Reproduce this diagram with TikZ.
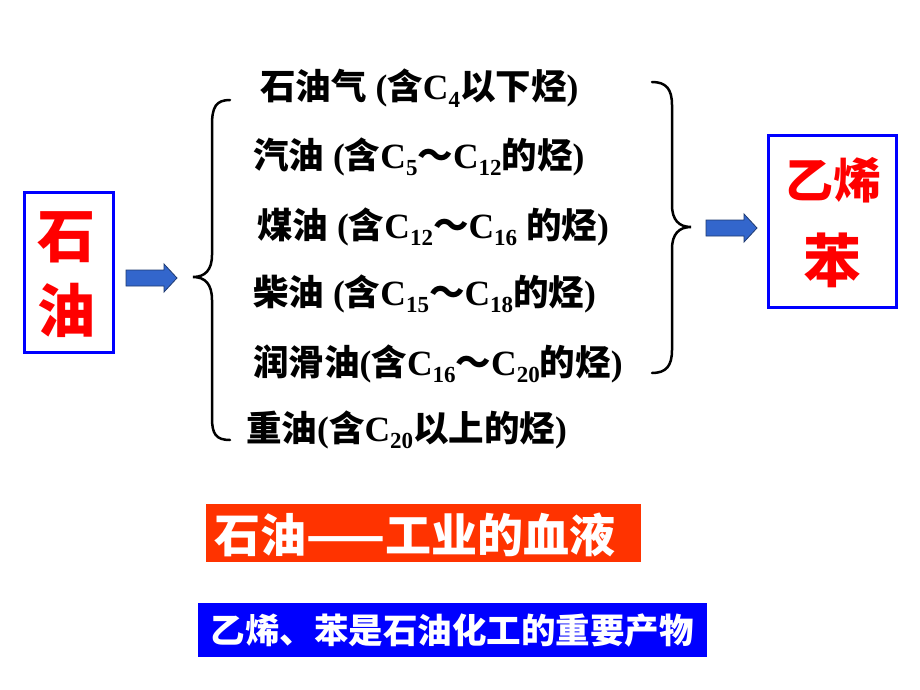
\documentclass[tikz,border=0pt]{standalone}
\usepackage{fontspec}
\setmainfont{Liberation Serif}
\newfontfamily\cjk{Noto Sans CJK SC}
\definecolor{pureblue}{HTML}{0000FF}
\definecolor{barred}{HTML}{FF3300}
\definecolor{arrowblue}{HTML}{3366CC}
\definecolor{arrowline}{HTML}{1F3A70}
\newcommand{\zh}[1]{{\cjk #1}}
\newcommand{\sub}[1]{\raisebox{-0.22em}{\fontsize{23}{23}\selectfont #1}}
\def\blockarrow(#1,#2){\draw[arrowpen] (#1, #2-8) -- ++(38, 0) -- ++(0, -6) -- ++(13, 14) -- ++(-13, 14) -- ++(0, -6) -- ++(-38, 0) -- cycle;}
\tikzset{
	oilitem/.style={anchor=base west, inner sep=0pt, font=\fontsize{35.5}{40}\selectfont\bfseries},
	framebox/.style={draw=pureblue, line width=3pt, inner sep=0pt},
	redword/.style={text=red, inner sep=0pt},
	arrowpen/.style={draw=arrowline, fill=arrowblue, line width=0.8pt},
	bracepen/.style={line width=2.5pt, line cap=round},
}

\begin{document}
\begin{tikzpicture}[x=1pt, y=-1pt]
			%%%%% START %%%%%
			
			\fill[white] (0, 0) rectangle (920, 690);
			\useasboundingbox (0, 0) rectangle (920, 690);
			
			\node[framebox, minimum width=89pt, minimum height=160pt] (oilbox) at (68.5, 272) {};
			\node[redword, font=\fontsize{58}{58}\selectfont\bfseries\cjk] (shi) at (66, 237) {石};
			\node[redword, font=\fontsize{58}{58}\selectfont\bfseries\cjk] (you) at (66, 310) {油};
			
			\blockarrow(126, 278)
			
			\draw[bracepen] (230, 100) .. controls (216, 100) and (212, 107) .. (212, 125) -- (212, 255)
				.. controls (212, 270) and (205, 277) .. (193, 277)
				.. controls (205, 277) and (212, 284) .. (212, 300) -- (212, 418)
				.. controls (212, 434) and (216, 440) .. (230, 440);
			
			\node[oilitem] (gas) at (260, 100) {\zh{石油气} (\zh{含}C\sub{4}\zh{以下烃})};
			\node[oilitem] (petrol) at (253, 168) {\zh{汽油} (\zh{含}C\sub{5}\zh{～}C\sub{12}\zh{的烃})};
			\node[oilitem] (kerosene) at (257, 238) {\zh{煤油} (\zh{含}C\sub{12}\zh{～}C\sub{16} \zh{的烃})};
			\node[oilitem] (diesel) at (253, 305) {\zh{柴油} (\zh{含}C\sub{15}\zh{～}C\sub{18}\zh{的烃})};
			\node[oilitem] (lube) at (253, 375) {\zh{润滑油}(\zh{含}C\sub{16}\zh{～}C\sub{20}\zh{的烃})};
			\node[oilitem] (heavy) at (246, 441) {\zh{重油}(\zh{含}C\sub{20}\zh{以上的烃})};
			
			\draw[bracepen] (652, 82) .. controls (666, 82) and (672, 89) .. (672, 105) -- (672, 205)
				.. controls (672, 220) and (679, 227) .. (691, 227)
				.. controls (679, 227) and (672, 234) .. (672, 249) -- (672, 350)
				.. controls (672, 366) and (666, 373) .. (652, 373);
			
			\blockarrow(706, 228)
			
			\node[framebox, minimum width=128pt, minimum height=172pt] (prodbox) at (832, 221) {};
			\node[redword, font=\fontsize{48}{48}\selectfont\bfseries\cjk] (ethene) at (833, 180) {乙烯};
			\node[redword, font=\fontsize{58}{58}\selectfont\bfseries\cjk] (benzene) at (832, 260) {苯};
			
			\node[fill=barred, inner sep=0pt, minimum width=435pt, minimum height=58pt] (bloodbar) at (423.5, 533) {};
			\node[text=white, inner sep=0pt, font=\fontsize{46}{46}\selectfont\bfseries\cjk] (blood) at (415, 535) {石油——工业的血液};
			
			\node[fill=pureblue, inner sep=0pt, minimum width=509pt, minimum height=54pt] (productbar) at (452.5, 630) {};
			\node[text=white, inner sep=0pt, font=\fontsize{34.5}{34.5}\selectfont\bfseries\cjk] (products) at (452, 631) {乙烯、苯是石油化工的重要产物};
			
			%%%%% END %%%%%
\end{tikzpicture}
\end{document}
